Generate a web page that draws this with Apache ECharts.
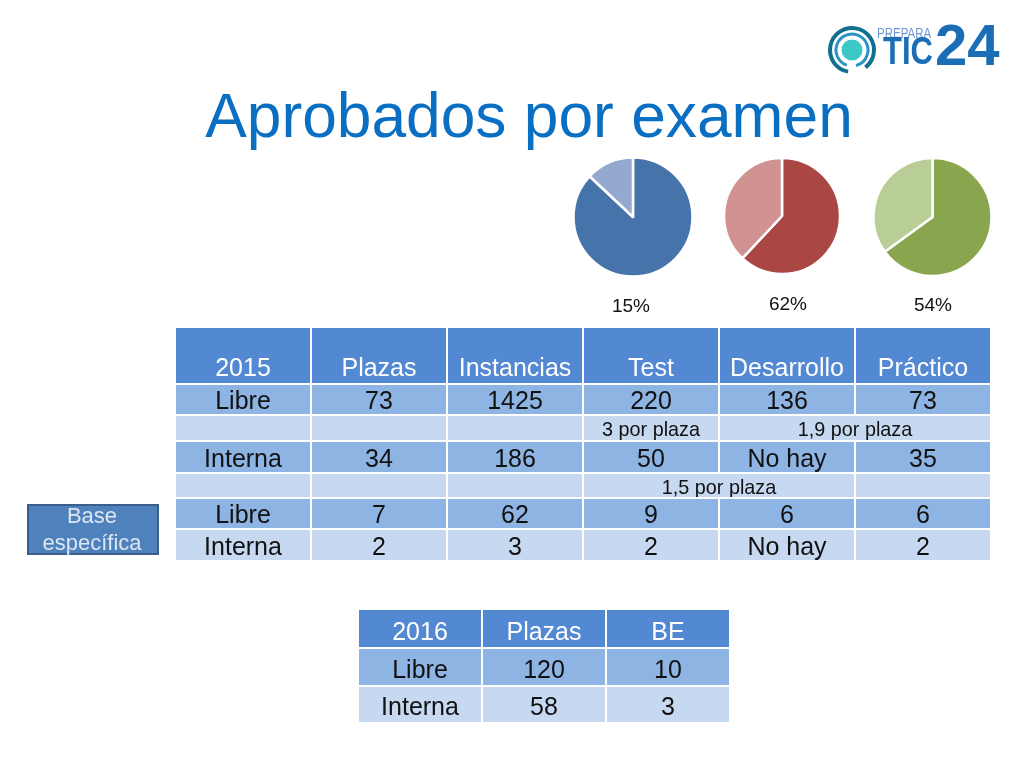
<!DOCTYPE html>
<html>
<head>
<meta charset="utf-8">
<title>Aprobados por examen</title>
<script src="https://cdn.jsdelivr.net/npm/echarts@6/dist/echarts.min.js"></script>
<style>
  html, body { margin: 0; padding: 0; background: #fff; }
  #main { width: 1024px; height: 768px; }
</style>
</head>
<body>
<div id="main"></div>
<script>
// datos de las tartas
const pieNames = ['Aprobados', 'Resto'];
const pieTest = [87, 13];
const pieDesarrollo = [62, 38];
const piePractico = [65, 35];
const pieLabels = ['15%', '62%', '54%'];

// tabla 2015, null = celda unida con la anterior
const header2015 = ['2015', 'Plazas', 'Instancias', 'Test', 'Desarrollo', 'Práctico'];
const libre2015 = ['Libre', '73', '1425', '220', '136', '73'];
const notas1 = ['', '', '', '3 por plaza', '1,9 por plaza', null];
const interna2015 = ['Interna', '34', '186', '50', 'No hay', '35'];
const notas2 = ['', '', '', '1,5 por plaza', null, ''];
const libreBE = ['Libre', '7', '62', '9', '6', '6'];
const internaBE = ['Interna', '2', '3', '2', 'No hay', '2'];

// tabla 2016
const header2016 = ['2016', 'Plazas', 'BE'];
const libre2016 = ['Libre', '120', '10'];
const interna2016 = ['Interna', '58', '3'];

const FONT = '"Liberation Sans", Arial, sans-serif';
const colHeader = '#5388D3', colDark = '#8EB4E3', colLight = '#C6D9F1';

// bordes de fila en px, solo maquetacion
const edges2015 = [0, 57, 88, 114, 146, 171, 202, 234];
const edges2016 = [0, 39, 77, 114];
const smallRows = [2, 4];

// pasa las filas a celdas [x0, x1, y0, y1, fila, texto]
function buildCells(rows, edges) {
  let out = [];
  rows.forEach((row, r) => {
    row.forEach((txt, c) => {
      if (txt === null) return;
      let end = c + 1;
      while (row[end] === null) end++;
      out.push([c, end, edges[r], edges[r + 1], r, txt]);
    });
  });
  return out;
}

function tableSeries(rows, edges, index) {
  const cells = buildCells(rows, edges);
  const shift = index === 0 ? 3 : 4;
  return {
    type: 'custom',
    xAxisIndex: index,
    yAxisIndex: index,
    silent: true,
    clip: false,
    encode: { x: [0, 1], y: [2, 3] },
    data: cells.map(c => c.slice(0, 5)),
    renderItem: function (params, api) {
      let p0 = api.coord([api.value(0), api.value(2)]);
      let p1 = api.coord([api.value(1), api.value(3)]);
      let r = api.value(4);
      let isHeader = r === 0;
      let small = index === 0 && smallRows.indexOf(r) >= 0;
      let fill = isHeader ? colHeader : (r % 2 ? colDark : colLight);
      let h = p1[1] - p0[1];
      let textY = isHeader ? (h > 45 ? p1[1] - 15 : p0[1] + h / 2 + 4.5) : p0[1] + h / 2 + shift;
      return {
        type: 'group',
        children: [
          {
            type: 'rect',
            shape: { x: p0[0], y: p0[1], width: p1[0] - p0[0], height: h },
            style: { fill: fill, stroke: '#fff', lineWidth: 2 }
          },
          {
            type: 'text',
            x: (p0[0] + p1[0]) / 2,
            y: textY,
            style: {
              text: cells[params.dataIndex][5],
              fill: isHeader ? '#fff' : '#111',
              font: (small ? 19.8 : 25) + 'px ' + FONT,
              textAlign: 'center',
              textVerticalAlign: 'middle'
            }
          }
        ]
      };
    }
  };
}

function pieSeries(values, colors, cx, cy, r) {
  return {
    type: 'pie',
    center: [cx, cy],
    radius: [0, r],
    startAngle: 90,
    clockwise: true,
    label: { show: false },
    labelLine: { show: false },
    silent: true,
    itemStyle: { borderColor: '#fff', borderWidth: 2.5 },
    data: values.map((v, i) => ({ name: pieNames[i], value: v, itemStyle: { color: colors[i] } }))
  };
}

function pctText(txt, x, y) {
  return { type: 'text', x: x, y: y, style: { text: txt, fill: '#111', font: '19px ' + FONT, textAlign: 'center', textVerticalAlign: 'middle' } };
}

function ring(r, start, end, color, width) {
  return { type: 'arc', shape: { cx: 852, cy: 50, r: r, startAngle: start, endAngle: end }, style: { fill: 'none', stroke: color, lineWidth: width } };
}

function logoText(txt, x, y, size, color, weight, scaleY) {
  return {
    type: 'text', x: x, y: y, scaleY: scaleY || 1,
    style: { text: txt, fill: color, font: weight + ' ' + size + 'px ' + FONT, textAlign: 'left', textVerticalAlign: 'bottom' }
  };
}

const rows2015 = [header2015, libre2015, notas1, interna2015, notas2, libreBE, internaBE];
const rows2016 = [header2016, libre2016, interna2016];

const chart = echarts.init(document.getElementById('main'), null, { renderer: 'canvas' });
chart.setOption({
  animation: false,
  backgroundColor: '#fff',
  title: {
    text: 'Aprobados por examen',
    left: 524,
    top: 80,
    textAlign: 'center',
    textStyle: { color: '#0A6FC2', fontFamily: FONT, fontSize: 62.3, fontWeight: 'normal', lineHeight: 70 }
  },
  grid: [
    { left: 175, top: 327, width: 816, height: 234 },
    { left: 358, top: 609, width: 372, height: 114 }
  ],
  xAxis: [
    { type: 'value', gridIndex: 0, min: 0, max: header2015.length, show: false },
    { type: 'value', gridIndex: 1, min: 0, max: header2016.length, show: false }
  ],
  yAxis: [
    { type: 'value', gridIndex: 0, min: 0, max: 234, inverse: true, show: false },
    { type: 'value', gridIndex: 1, min: 0, max: 114, inverse: true, show: false }
  ],
  series: [
    pieSeries(pieTest, ['#4674AA', '#93A9CF'], 633, 217, 59.5),
    pieSeries(pieDesarrollo, ['#AA4643', '#D09392'], 782, 216, 58),
    pieSeries(piePractico, ['#89A54E', '#B9CD96'], 932.5, 217, 59),
    tableSeries(rows2015, edges2015, 0),
    tableSeries(rows2016, edges2016, 1)
  ],
  graphic: [
    pctText(pieLabels[0], 631, 307),
    pctText(pieLabels[1], 788, 305),
    pctText(pieLabels[2], 933, 306),
    // recuadro base especifica
    {
      type: 'rect',
      shape: { x: 28, y: 505, width: 130, height: 49 },
      style: { fill: '#4F81BD', stroke: '#3A5F8B', lineWidth: 2 }
    },
    {
      type: 'text', x: 92, y: 517,
      style: { text: 'Base', fill: '#DCE6F2', font: '22px ' + FONT, textAlign: 'center', textVerticalAlign: 'middle' }
    },
    {
      type: 'text', x: 92, y: 544,
      style: { text: 'específica', fill: '#DCE6F2', font: '22px ' + FONT, textAlign: 'center', textVerticalAlign: 'middle' }
    },
    // logo
    ring(22, 1.75, 7.2, '#11708F', 4),
    ring(16, 1.9, 7.6, '#2A93C4', 3),
    { type: 'circle', shape: { cx: 852, cy: 50, r: 10.5 }, style: { fill: '#3CC8C6' } },
    logoText('PREPARA', 877, 42, 11.5, '#6E97D2', 'normal', 1.35),
    logoText('TIC', 883, 73, 31, '#1B6DB6', 'bold', 1.25),
    logoText('24', 935, 78, 58, '#1B6DB6', 'bold')
  ]
});
</script>
</body>
</html>
